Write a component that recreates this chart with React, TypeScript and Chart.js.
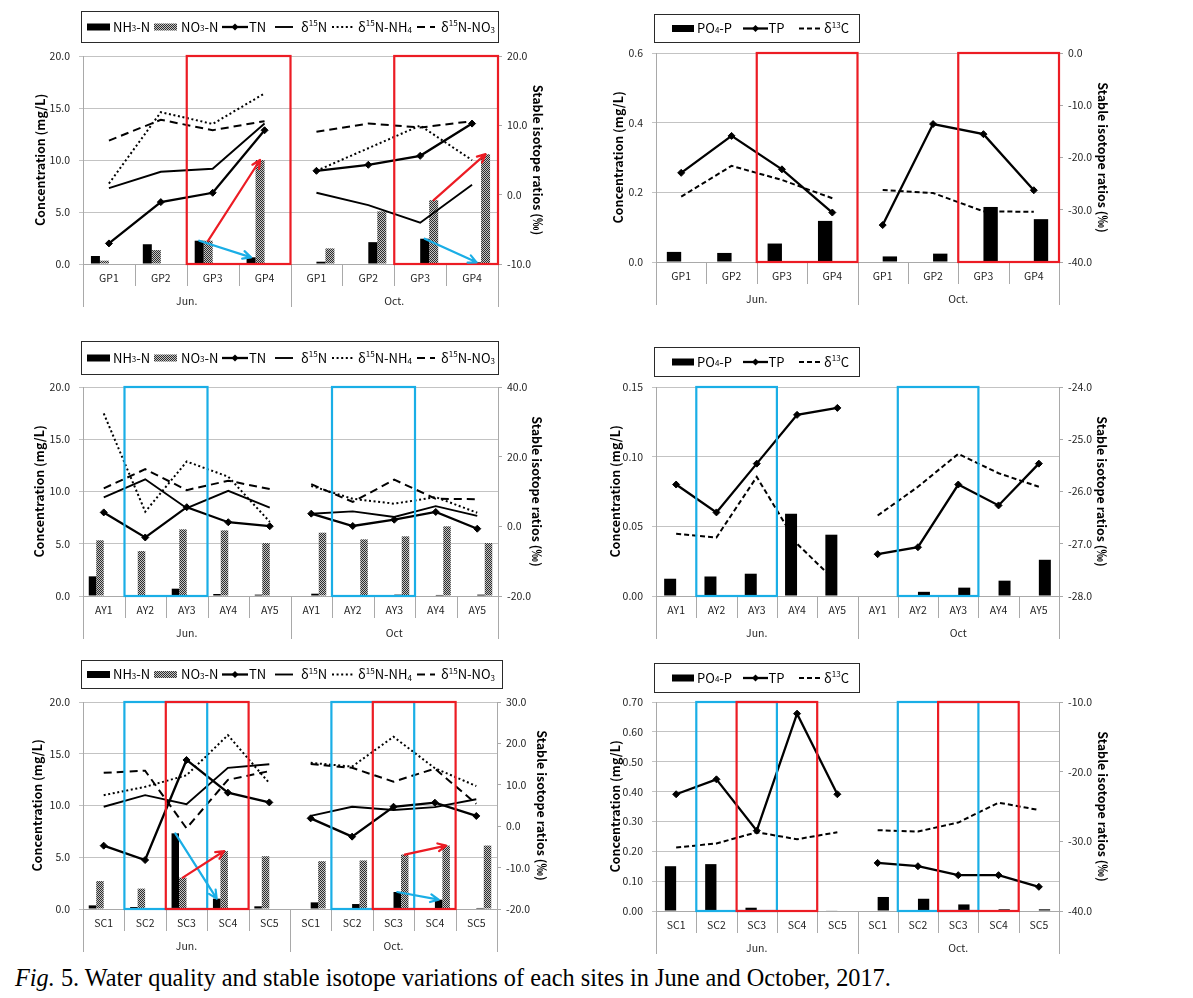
import React, { useEffect, useRef } from 'react';
import { Chart, registerables } from 'chart.js';

Chart.register(...registerables);

const FONT = '"Noto Sans CJK KR", "Noto Sans", sans-serif';
const RED = '#ec1c24';
const BLUE = '#1aaee6';
const GRID = '#c3c3c3';
const AXIS = '#a9a9a9';
const INK = '#1e1e1e';

// ---------------- categories ----------------
const MONTHS_GP = ['Jun.', 'Oct.'];
const MONTHS_AY = ['Jun.', 'Oct'];
const MONTHS_SC = ['Jun.', 'Oct.'];
const SITES_GP = ['GP1', 'GP2', 'GP3', 'GP4'];
const SITES_AY = ['AY1', 'AY2', 'AY3', 'AY4', 'AY5'];
const SITES_SC = ['SC1', 'SC2', 'SC3', 'SC4', 'SC5'];

// ---------------- axis ranges [min, max, step] ----------------
const AX_GP_N = [0, 20, 5];
const AX_GP_N_ISO = [-10, 20, 10];
const AX_GP_P = [0, 0.6, 0.2];
const AX_GP_P_ISO = [-40, 0, 10];
const AX_AY_N = [0, 20, 5];
const AX_AY_N_ISO = [-20, 40, 20];
const AX_AY_P = [0, 0.15, 0.05];
const AX_AY_P_ISO = [-28, -24, 1];
const AX_SC_N = [0, 20, 5];
const AX_SC_N_ISO = [-20, 30, 10];
const AX_SC_P = [0, 0.7, 0.1];
const AX_SC_P_ISO = [-40, -10, 10];

// ---------------- GP : nitrogen ----------------
const gpNH3Jun = [0.77, 1.9, 2.24, 0.64];
const gpNH3Oct = [0.22, 2.1, 2.43, 0.16];
const gpNO3Jun = [0.32, 1.34, 2.24, 10.0];
const gpNO3Oct = [1.5, 5.06, 6.14, 10.56];
const gpTNJun = [1.98, 5.95, 6.85, 12.86];
const gpTNOct = [8.96, 9.54, 10.4, 13.5];
const gpD15NJun = [0.95, 3.3, 3.73, 10.26];
const gpD15NOct = [0.27, -1.5, -4.05, 1.43];
const gpD15NH4Jun = [1.6, 11.9, 10.2, 14.6];
const gpD15NH4Oct = [3.44, 6.7, 9.97, 4.98];
const gpD15NO3Jun = [7.8, 10.8, 9.3, 10.6];
const gpD15NO3Oct = [9.06, 10.26, 9.68, 10.6];

// ---------------- GP : phosphorus ----------------
const gpPO4Jun = [0.029, 0.026, 0.053, 0.118];
const gpPO4Oct = [0.016, 0.024, 0.158, 0.123];
const gpTPJun = [0.256, 0.362, 0.266, 0.142];
const gpTPOct = [0.106, 0.396, 0.367, 0.206];
const gpD13CJun = [-27.5, -21.6, -24.3, -27.8];
const gpD13COct = [-26.2, -26.8, -30.3, -30.4];

// ---------------- AY : nitrogen ----------------
const ayNH3Jun = [1.88, 0, 0.7, 0.19, 0.13];
const ayNH3Oct = [0.22, 0, 0.13, 0.1, 0.13];
const ayNO3Jun = [5.33, 4.3, 6.38, 6.28, 5.07];
const ayNO3Oct = [6.06, 5.42, 5.71, 6.67, 5.07];
const ayTNJun = [8.0, 5.6, 8.5, 7.06, 6.68];
const ayTNOct = [7.88, 6.7, 7.3, 8.04, 6.44];
const ayD15NJun = [8.3, 13.5, 5.2, 10.2, 5.35];
const ayD15NOct = [3.6, 4.3, 2.7, 5.8, 3.0];
const ayD15NH4Jun = [32.4, 4.2, 18.6, 14.25, 1.3];
const ayD15NH4Oct = [11.6, 7.9, 6.5, 8.4, 3.9];
const ayD15NO3Jun = [10.9, 16.4, 10.4, 13.1, 10.7];
const ayD15NO3Oct = [12.1, 7.0, 13.4, 7.9, 7.8];

// ---------------- AY : phosphorus ----------------
const ayPO4Jun = [0.0124, 0.014, 0.016, 0.059, 0.044];
const ayPO4Oct = [0, 0.003, 0.006, 0.011, 0.026];
const ayTPJun = [0.08, 0.06, 0.095, 0.13, 0.135];
const ayTPOct = [0.03, 0.035, 0.08, 0.065, 0.095];
const ayD13CJun = [-26.81, -26.88, -25.72, -27.0, -27.75];
const ayD13COct = [-26.46, -25.91, -25.28, -25.65, -25.91];

// ---------------- SC : nitrogen ----------------
const scNH3Jun = [0.35, 0.19, 7.31, 1.0, 0.26];
const scNH3Oct = [0.64, 0.48, 1.64, 0.9, 0.1];
const scNO3Jun = [2.7, 1.97, 3.03, 5.6, 5.1];
const scNO3Oct = [4.62, 4.69, 5.26, 6.13, 6.13];
const scTNJun = [6.12, 4.73, 14.4, 11.24, 10.3];
const scTNOct = [8.76, 6.99, 9.88, 10.27, 8.99];
const scD15NJun = [4.7, 7.5, 5.3, 14.1, 14.95];
const scD15NOct = [2.5, 4.7, 3.9, 4.6, 6.5];
const scD15NH4Jun = [7.5, 9.5, 12.3, 22.0, 10.4];
const scD15NH4Oct = [15.3, 14.4, 21.6, 14.0, 9.7];
const scD15NO3Jun = [12.9, 13.4, -0.5, 11.2, 13.3];
const scD15NO3Oct = [15.0, 14.1, 10.75, 13.9, 5.4];

// ---------------- SC : phosphorus ----------------
const scPO4Jun = [0.15, 0.157, 0.011, 0.003, 0.002];
const scPO4Oct = [0.047, 0.041, 0.022, 0.0056, 0.0056];
const scTPJun = [0.391, 0.441, 0.269, 0.661, 0.391];
const scTPOct = [0.161, 0.15, 0.12, 0.12, 0.081];
const scD13CJun = [-30.9, -30.3, -28.7, -29.7, -28.7];
const scD13COct = [-28.4, -28.6, -27.3, -24.45, -25.5];

// ---------------- types ----------------
type Seg = { t: string; s?: 'sub' | 'sup' | 'small' };
type LegItem = { k: 'bar' | 'pat' | 'tn' | 'solid' | 'dot' | 'dash' | 'dash13'; x0: number; x1: number; tx: number; segs: Seg[] };
type BarSpec = { name: string; jun: number[]; oct: number[]; fill: 'black' | 'pattern' };
type LineSpec = { name: string; jun: number[]; oct: number[]; axis: 'y' | 'y1'; kind: 'tn' | 'solid' | 'dot' | 'dash' | 'dash13' };
type PanelSpec = {
  id: string;
  cx: number; cy: number; cw: number; ch: number;
  L: number; T: number; R: number; B: number;
  sites: string[]; months: string[]; catPct: number;
  bars: BarSpec[]; lines: LineSpec[];
  yl: number[]; ylDec: number; yr: number[]; yrDec: number;
  boxes: { from: number; to: number; color: string }[];
  arrows: { ds: number; from: number; to: number; color: string }[];
  legend: { x: number; y: number; w: number; h: number; items: LegItem[] };
  tl: number; tr: number;
};

const N_LEGEND: LegItem[] = [
  { k: 'bar', x0: 6, x1: 29, tx: 32, segs: [{ t: 'NH' }, { t: '3', s: 'small' }, { t: '-N' }] },
  { k: 'pat', x0: 73, x1: 96, tx: 100, segs: [{ t: 'NO' }, { t: '3', s: 'small' }, { t: '-N' }] },
  { k: 'tn', x0: 141, x1: 167, tx: 168, segs: [{ t: 'TN' }] },
  { k: 'solid', x0: 194, x1: 212, tx: 220, segs: [{ t: 'δ' }, { t: '15', s: 'sup' }, { t: 'N' }] },
  { k: 'dot', x0: 251, x1: 272, tx: 277, segs: [{ t: 'δ' }, { t: '15', s: 'sup' }, { t: 'N-NH' }, { t: '4', s: 'sub' }] },
  { k: 'dash', x0: 336, x1: 354, tx: 360, segs: [{ t: 'δ' }, { t: '15', s: 'sup' }, { t: 'N-NO' }, { t: '3', s: 'sub' }] },
];
const P_LEGEND: LegItem[] = [
  { k: 'bar', x0: 18, x1: 40, tx: 43, segs: [{ t: 'PO' }, { t: '4', s: 'small' }, { t: '-P' }] },
  { k: 'tn', x0: 89, x1: 114, tx: 114.5, segs: [{ t: 'TP' }] },
  { k: 'dash13', x0: 145, x1: 169, tx: 170, segs: [{ t: 'δ' }, { t: '13', s: 'sup' }, { t: 'C' }] },
];

function nLines(tnJ: number[], tnO: number[], dJ: number[], dO: number[], hJ: number[], hO: number[], oJ: number[], oO: number[]): LineSpec[] {
  return [
    { name: 'TN', jun: tnJ, oct: tnO, axis: 'y', kind: 'tn' },
    { name: 'δ15N', jun: dJ, oct: dO, axis: 'y1', kind: 'solid' },
    { name: 'δ15N-NH4', jun: hJ, oct: hO, axis: 'y1', kind: 'dot' },
    { name: 'δ15N-NO3', jun: oJ, oct: oO, axis: 'y1', kind: 'dash' },
  ];
}
function pLines(tpJ: number[], tpO: number[], cJ: number[], cO: number[]): LineSpec[] {
  return [
    { name: 'TP', jun: tpJ, oct: tpO, axis: 'y', kind: 'tn' },
    { name: 'δ13C', jun: cJ, oct: cO, axis: 'y1', kind: 'dash13' },
  ];
}

const PANELS: PanelSpec[] = [
  {
    id: 'gpN', cx: 20, cy: 6, cw: 545, ch: 308, L: 83, T: 56, R: 498, B: 264,
    sites: SITES_GP, months: MONTHS_GP, catPct: 0.694,
    bars: [
      { name: 'NH3-N', jun: gpNH3Jun, oct: gpNH3Oct, fill: 'black' },
      { name: 'NO3-N', jun: gpNO3Jun, oct: gpNO3Oct, fill: 'pattern' },
    ],
    lines: nLines(gpTNJun, gpTNOct, gpD15NJun, gpD15NOct, gpD15NH4Jun, gpD15NH4Oct, gpD15NO3Jun, gpD15NO3Oct),
    yl: AX_GP_N, ylDec: 1, yr: AX_GP_N_ISO, yrDec: 1,
    boxes: [{ from: 2, to: 3, color: RED }, { from: 6, to: 7, color: RED }],
    arrows: [
      { ds: 1, from: 2, to: 3, color: RED }, { ds: 0, from: 2, to: 3, color: BLUE },
      { ds: 3, from: 6, to: 7, color: RED }, { ds: 2, from: 6, to: 7, color: BLUE },
    ],
    legend: { x: 81, y: 11, w: 417, h: 31, items: N_LEGEND }, tl: 40, tr: 538,
  },
  {
    id: 'gpP', cx: 594, cy: 6, cw: 550, ch: 308, L: 656, T: 53, R: 1059, B: 262,
    sites: SITES_GP, months: MONTHS_GP, catPct: 0.57,
    bars: [{ name: 'PO4-P', jun: gpPO4Jun, oct: gpPO4Oct, fill: 'black' }],
    lines: pLines(gpTPJun, gpTPOct, gpD13CJun, gpD13COct),
    yl: AX_GP_P, ylDec: 1, yr: AX_GP_P_ISO, yrDec: 1,
    boxes: [{ from: 2, to: 3, color: RED }, { from: 6, to: 7, color: RED }],
    arrows: [],
    legend: { x: 654, y: 14, w: 205, h: 28, items: P_LEGEND }, tl: 618, tr: 1103,
  },
  {
    id: 'ayN', cx: 20, cy: 334, cw: 545, ch: 312, L: 83, T: 387, R: 498, B: 596,
    sites: SITES_AY, months: MONTHS_AY, catPct: 0.723,
    bars: [
      { name: 'NH3-N', jun: ayNH3Jun, oct: ayNH3Oct, fill: 'black' },
      { name: 'NO3-N', jun: ayNO3Jun, oct: ayNO3Oct, fill: 'pattern' },
    ],
    lines: nLines(ayTNJun, ayTNOct, ayD15NJun, ayD15NOct, ayD15NH4Jun, ayD15NH4Oct, ayD15NO3Jun, ayD15NO3Oct),
    yl: AX_AY_N, ylDec: 1, yr: AX_AY_N_ISO, yrDec: 1,
    boxes: [{ from: 1, to: 2, color: BLUE }, { from: 6, to: 7, color: BLUE }],
    arrows: [],
    legend: { x: 81, y: 341, w: 417, h: 33, items: N_LEGEND }, tl: 39, tr: 537,
  },
  {
    id: 'ayP', cx: 594, cy: 334, cw: 550, ch: 312, L: 656, T: 387, R: 1059, B: 596,
    sites: SITES_AY, months: MONTHS_AY, catPct: 0.595,
    bars: [{ name: 'PO4-P', jun: ayPO4Jun, oct: ayPO4Oct, fill: 'black' }],
    lines: pLines(ayTPJun, ayTPOct, ayD13CJun, ayD13COct),
    yl: AX_AY_P, ylDec: 2, yr: AX_AY_P_ISO, yrDec: 1,
    boxes: [{ from: 1, to: 2, color: BLUE }, { from: 6, to: 7, color: BLUE }],
    arrows: [],
    legend: { x: 654, y: 347, w: 205, h: 29, items: P_LEGEND }, tl: 615, tr: 1102,
  },
  {
    id: 'scN', cx: 20, cy: 652, cw: 545, ch: 308, L: 83, T: 702, R: 497, B: 909,
    sites: SITES_SC, months: MONTHS_SC, catPct: 0.723,
    bars: [
      { name: 'NH3-N', jun: scNH3Jun, oct: scNH3Oct, fill: 'black' },
      { name: 'NO3-N', jun: scNO3Jun, oct: scNO3Oct, fill: 'pattern' },
    ],
    lines: nLines(scTNJun, scTNOct, scD15NJun, scD15NOct, scD15NH4Jun, scD15NH4Oct, scD15NO3Jun, scD15NO3Oct),
    yl: AX_SC_N, ylDec: 1, yr: AX_SC_N_ISO, yrDec: 1,
    boxes: [
      { from: 1, to: 2, color: BLUE }, { from: 6, to: 7, color: BLUE },
      { from: 2, to: 3, color: RED }, { from: 7, to: 8, color: RED },
    ],
    arrows: [
      { ds: 0, from: 2, to: 3, color: BLUE }, { ds: 1, from: 2, to: 3, color: RED },
      { ds: 3, from: 7, to: 8, color: RED }, { ds: 2, from: 7, to: 8, color: BLUE },
    ],
    legend: { x: 81, y: 660, w: 421, h: 28, items: N_LEGEND }, tl: 37, tr: 542,
  },
  {
    id: 'scP', cx: 594, cy: 652, cw: 550, ch: 308, L: 656, T: 702, R: 1059, B: 911,
    sites: SITES_SC, months: MONTHS_SC, catPct: 0.56,
    bars: [{ name: 'PO4-P', jun: scPO4Jun, oct: scPO4Oct, fill: 'black' }],
    lines: pLines(scTPJun, scTPOct, scD13CJun, scD13COct),
    yl: AX_SC_P, ylDec: 2, yr: AX_SC_P_ISO, yrDec: 1,
    boxes: [
      { from: 1, to: 2, color: BLUE }, { from: 6, to: 7, color: BLUE },
      { from: 2, to: 3, color: RED }, { from: 7, to: 8, color: RED },
    ],
    arrows: [],
    legend: { x: 654, y: 663, w: 205, h: 29, items: P_LEGEND }, tl: 615, tr: 1103,
  },
];

// ---------------- drawing helpers ----------------
function makePattern(ctx: CanvasRenderingContext2D): CanvasPattern {
  const c = document.createElement('canvas');
  c.width = 2; c.height = 2;
  const g = c.getContext('2d')!;
  g.fillStyle = '#c4c4c4';
  g.fillRect(0, 0, 2, 2);
  g.fillStyle = '#2e2e2e';
  g.fillRect(0, 0, 1, 1);
  g.fillRect(1, 1, 1, 1);
  return ctx.createPattern(c, 'repeat')!;
}

function drawRich(c: CanvasRenderingContext2D, segs: Seg[], x: number, y: number, size: number) {
  let cx = x;
  c.textAlign = 'left';
  c.textBaseline = 'middle';
  for (const s of segs) {
    const fs = s.s ? size * 0.62 : size;
    c.font = `${fs}px ${FONT}`;
    let dy = 0;
    if (s.s === 'sub') dy = size * 0.26;
    if (s.s === 'sup') dy = -size * 0.3;
    if (s.s === 'small') dy = size * 0.1;
    c.fillText(s.t, cx, y + dy);
    cx += c.measureText(s.t).width;
  }
}

function lineStyle(kind: string): { width: number; dash: number[] } {
  switch (kind) {
    case 'tn': return { width: 2.3, dash: [] };
    case 'solid': return { width: 1.9, dash: [] };
    case 'dot': return { width: 2, dash: [2, 2.6] };
    case 'dash': return { width: 2, dash: [8, 5] };
    default: return { width: 2, dash: [5, 3] };
  }
}

function drawArrow(c: CanvasRenderingContext2D, x0: number, y0: number, x1: number, y1: number, color: string) {
  const ang = Math.atan2(y1 - y0, x1 - x0);
  const h = 9;
  c.save();
  c.strokeStyle = color;
  c.lineWidth = 2.2;
  c.setLineDash([]);
  c.lineCap = 'round';
  c.lineJoin = 'round';
  c.beginPath();
  c.moveTo(x0, y0);
  c.lineTo(x1, y1);
  c.moveTo(x1 - h * Math.cos(ang - 0.45), y1 - h * Math.sin(ang - 0.45));
  c.lineTo(x1, y1);
  c.lineTo(x1 - h * Math.cos(ang + 0.45), y1 - h * Math.sin(ang + 0.45));
  c.stroke();
  c.restore();
}

function buildChart(canvas: HTMLCanvasElement, p: PanelSpec): Chart {
  const ctx = canvas.getContext('2d')!;
  const pattern = makePattern(ctx);
  const n = p.sites.length;
  const nulls: (number | null)[] = Array(n).fill(null);
  const labels = [...p.sites, ...p.sites];
  const datasets: any[] = [];
  for (let m = 0; m < 2; m++) {
    for (const b of p.bars) {
      datasets.push({
        type: 'bar',
        label: `${b.name} ${m === 0 ? 'Jun' : 'Oct'}`,
        yAxisID: 'y',
        data: m === 0 ? [...b.jun, ...nulls] : [...nulls, ...b.oct],
        backgroundColor: b.fill === 'pattern' ? pattern : '#000000',
        borderWidth: 0,
        categoryPercentage: p.catPct,
        barPercentage: 1,
        order: 2,
      });
    }
  }
  for (const l of p.lines) {
    const st = lineStyle(l.kind);
    datasets.push({
      type: 'line',
      label: l.name,
      yAxisID: l.axis,
      data: [...l.jun, ...l.oct],
      borderColor: '#000000',
      backgroundColor: '#000000',
      borderWidth: st.width,
      borderDash: st.dash,
      tension: 0,
      fill: false,
      pointRadius: l.kind === 'tn' ? 3.5 : 0,
      pointStyle: 'rectRot',
      pointBackgroundColor: '#000000',
      pointBorderColor: '#000000',
      pointBorderWidth: 1,
      segment: {
        borderColor: (sc: any) => (sc.p0DataIndex === n - 1 ? 'rgba(0,0,0,0)' : undefined),
      },
      order: 1,
    });
  }

  const leftW = p.L - p.cx;
  const rightW = p.cx + p.cw - p.R;
  const bottomH = p.cy + p.ch - p.B;
  const topPad = p.T - p.cy;

  const decor = {
    id: 'decor' + p.id,
    afterDraw(chart: any) {
      const c: CanvasRenderingContext2D = chart.ctx;
      const xs = chart.scales.x;
      const area = chart.chartArea;
      const N = labels.length;
      const cw = (xs.right - xs.left) / N;
      c.save();
      c.setLineDash([]);
      // category axis: separators and labels
      c.strokeStyle = AXIS;
      c.lineWidth = 1;
      c.beginPath();
      for (let i = 0; i <= N; i++) {
        const x = Math.round(xs.left + i * cw) + 0.5;
        const long = i === 0 || i === N || i === n;
        c.moveTo(x, area.bottom);
        c.lineTo(x, area.bottom + (long ? 43 : 22));
      }
      c.stroke();
      c.fillStyle = INK;
      c.font = `10.5px ${FONT}`;
      c.textAlign = 'center';
      c.textBaseline = 'middle';
      for (let i = 0; i < N; i++) {
        c.fillText(labels[i], xs.getPixelForValue(i), area.bottom + 14);
      }
      for (let m = 0; m < 2; m++) {
        c.fillText(p.months[m], xs.left + (m + 0.5) * n * cw, area.bottom + 37);
      }
      // axis titles
      c.font = `bold 12.5px ${FONT}`;
      c.fillStyle = '#000';
      const midY = (area.top + area.bottom) / 2;
      c.save();
      c.translate(p.tl - p.cx, midY);
      c.rotate(-Math.PI / 2);
      c.fillText('Concentration (mg/L)', 0, 0);
      c.restore();
      c.save();
      c.translate(p.tr - p.cx, midY);
      c.rotate(Math.PI / 2);
      c.fillText('Stable isotope ratios (‰)', 0, 0);
      c.restore();
      // highlight boxes
      c.lineWidth = 2.2;
      for (const b of p.boxes) {
        const x0 = xs.getPixelForValue(b.from) - cw / 2;
        const x1 = xs.getPixelForValue(b.to) + cw / 2;
        c.strokeStyle = b.color;
        c.strokeRect(x0, area.top, x1 - x0, area.bottom - area.top);
      }
      // arrows between bar tops
      for (const a of p.arrows) {
        const e0 = chart.getDatasetMeta(a.ds).data[a.from];
        const e1 = chart.getDatasetMeta(a.ds).data[a.to];
        if (e0 && e1) drawArrow(c, e0.x, e0.y, e1.x, e1.y, a.color);
      }
      // legend
      const lg = p.legend;
      const lx = lg.x - p.cx;
      const ly = lg.y - p.cy;
      c.strokeStyle = '#2a2a2a';
      c.lineWidth = 1;
      c.strokeRect(lx + 0.5, ly + 0.5, lg.w, lg.h);
      const my = ly + lg.h / 2 + 0.5;
      for (const it of lg.items) {
        const x0 = lx + it.x0;
        const x1 = lx + it.x1;
        if (it.k === 'bar' || it.k === 'pat') {
          c.fillStyle = it.k === 'pat' ? pattern : '#000';
          c.fillRect(x0, my - 3.5, x1 - x0, 7);
        } else {
          const st = lineStyle(it.k);
          c.strokeStyle = '#000';
          c.lineWidth = st.width;
          c.setLineDash(st.dash);
          c.beginPath();
          c.moveTo(x0, my);
          c.lineTo(x1, my);
          c.stroke();
          c.setLineDash([]);
          if (it.k === 'tn') {
            const dx = (x0 + x1) / 2;
            c.fillStyle = '#000';
            c.beginPath();
            c.moveTo(dx, my - 3.5);
            c.lineTo(dx + 3.5, my);
            c.lineTo(dx, my + 3.5);
            c.lineTo(dx - 3.5, my);
            c.closePath();
            c.fill();
          }
        }
        c.fillStyle = '#000';
        drawRich(c, it.segs, lx + it.tx, my, 13);
      }
      c.restore();
    },
  };

  const tickFont = { family: FONT, size: 10.5 };
  return new Chart(canvas, {
    type: 'bar',
    data: { labels, datasets },
    options: {
      responsive: false,
      animation: false,
      devicePixelRatio: 1,
      layout: { padding: { top: topPad, left: 0, right: 0, bottom: 0 } },
      plugins: { legend: { display: false }, tooltip: { enabled: false }, title: { display: false } },
      scales: {
        x: {
          type: 'category',
          offset: true,
          grid: { display: false },
          ticks: { display: false },
          border: { display: true, color: AXIS },
          afterFit: (s: any) => { s.height = bottomH; },
        },
        y: {
          type: 'linear',
          position: 'left',
          min: p.yl[0],
          max: p.yl[1],
          ticks: {
            stepSize: p.yl[2],
            font: tickFont,
            color: INK,
            padding: 9,
            callback: (v: any) => Number(v).toFixed(p.ylDec),
          },
          grid: { color: GRID, drawTicks: true, tickLength: 4, tickColor: GRID },
          border: { display: true, color: AXIS },
          afterFit: (s: any) => { s.width = leftW; },
        },
        y1: {
          type: 'linear',
          position: 'right',
          min: p.yr[0],
          max: p.yr[1],
          ticks: {
            stepSize: p.yr[2],
            font: tickFont,
            color: INK,
            padding: 5,
            callback: (v: any) => Number(v).toFixed(p.yrDec),
          },
          grid: { drawOnChartArea: false, drawTicks: true, tickLength: 4, color: AXIS },
          border: { display: true, color: AXIS },
          afterFit: (s: any) => { s.width = rightW; },
        },
      },
    } as any,
    plugins: [decor],
  });
}

function Panel({ spec }: { spec: PanelSpec }) {
  const ref = useRef<HTMLCanvasElement>(null);
  useEffect(() => {
    const chart = buildChart(ref.current!, spec);
    return () => chart.destroy();
  }, [spec]);
  return (
    <canvas
      ref={ref}
      width={spec.cw}
      height={spec.ch}
      style={{ position: 'absolute', left: spec.cx, top: spec.cy, width: spec.cw, height: spec.ch }}
    />
  );
}

export default function App() {
  return (
    <div style={{ position: 'absolute', left: 0, top: 0, width: 1193, height: 998, background: '#fff', overflow: 'hidden' }}>
      {PANELS.map((p) => (
        <Panel key={p.id} spec={p} />
      ))}
      <div
        style={{
          position: 'absolute', left: 15, top: 964, whiteSpace: 'nowrap', color: '#000',
          fontFamily: '"Liberation Serif", "Times New Roman", serif', fontSize: 24.3, lineHeight: '28px',
        }}
      >
        <i>Fig.</i> 5. Water quality and stable isotope variations of each sites in June and October, 2017.
      </div>
    </div>
  );
}
